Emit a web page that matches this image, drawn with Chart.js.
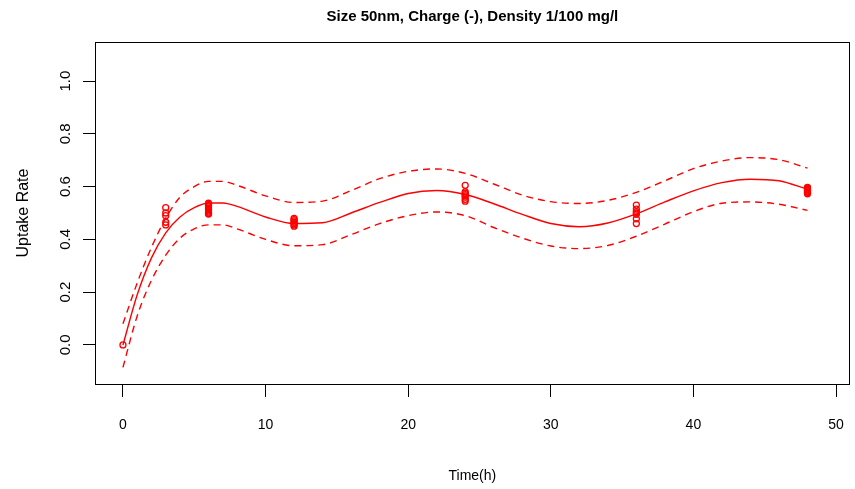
<!DOCTYPE html>
<html><head><meta charset="utf-8">
<script src="https://cdn.jsdelivr.net/npm/chart.js@4/dist/chart.umd.min.js"></script>
<style>html,body{margin:0;padding:0;background:#fff}#wrap{width:855px;height:489px;position:relative}</style>
</head><body><div id="wrap"><canvas id="c" width="855" height="489"></canvas></div>
<script>
const titleText = "Size 50nm, Charge (-), Density 1/100 mg/l";
const xTitle = "Time(h)";
const yTitle = "Uptake Rate";
const xTicks = [0, 10, 20, 30, 40, 50];
const yTicks = [0.0, 0.2, 0.4, 0.6, 0.8, 1.0];

// observed measurements
const obsTime = [0,
  3, 3, 3, 3, 3,
  6, 6, 6, 6, 6, 6, 6, 6, 6, 6,
  12, 12, 12, 12, 12, 12, 12,
  24, 24, 24, 24, 24, 24, 24, 24,
  36, 36, 36, 36, 36, 36, 36,
  48, 48, 48, 48, 48, 48, 48, 48];
const obsRate = [0.0,
  0.52, 0.50, 0.49, 0.465, 0.455,
  0.537, 0.533, 0.528, 0.523, 0.518, 0.513, 0.508, 0.503, 0.499, 0.496,
  0.48, 0.475, 0.47, 0.465, 0.46, 0.455, 0.45,
  0.605, 0.58, 0.575, 0.57, 0.565, 0.56, 0.552, 0.545,
  0.53, 0.515, 0.505, 0.50, 0.495, 0.478, 0.46,
  0.597, 0.594, 0.59, 0.587, 0.584, 0.58, 0.577, 0.573];

// fitted curve and confidence band
const fitTime  = [0, 1, 2, 3, 4, 5, 6, 7, 8, 10, 12, 14, 16, 18, 20, 22, 24, 26, 28, 30, 32, 34, 36, 38, 40, 42, 44, 46, 48];
const fitRate  = [0.0, 0.19, 0.33, 0.425, 0.485, 0.52, 0.538, 0.538, 0.525, 0.485, 0.46, 0.463, 0.50, 0.54, 0.574, 0.585, 0.57, 0.535, 0.495, 0.46, 0.448, 0.462, 0.497, 0.542, 0.584, 0.615, 0.628, 0.622, 0.59];
const upperBand = [0.08, 0.235, 0.37, 0.48, 0.56, 0.60, 0.62, 0.62, 0.605, 0.565, 0.54, 0.545, 0.585, 0.63, 0.658, 0.667, 0.65, 0.61, 0.568, 0.543, 0.536, 0.548, 0.578, 0.622, 0.668, 0.697, 0.71, 0.702, 0.67];
const lowerBand = [-0.085, 0.11, 0.245, 0.34, 0.405, 0.44, 0.455, 0.455, 0.44, 0.40, 0.376, 0.38, 0.418, 0.46, 0.49, 0.504, 0.49, 0.445, 0.405, 0.375, 0.365, 0.377, 0.412, 0.458, 0.505, 0.537, 0.542, 0.533, 0.51];

const toXY = (xs, ys) => xs.map((x, i) => ({x: x, y: ys[i]}));
const RED = '#ff0000';
const FONT = "'Liberation Sans', Arial, sans-serif";

const boxPlugin = {
  id: 'boxPlugin',
  afterDraw(chart) {
    const a = chart.chartArea, ctx = chart.ctx;
    ctx.save();
    ctx.strokeStyle = '#000';
    ctx.lineWidth = 1;
    ctx.strokeRect(Math.round(a.left) + 0.5, Math.round(a.top) + 0.5, Math.round(a.right - a.left) - 1, Math.round(a.bottom - a.top));
    ctx.restore();
  }
};

new Chart(document.getElementById('c'), {
  type: 'line',
  data: {
    datasets: [
      {type: 'line', data: toXY(fitTime, fitRate), borderColor: RED, borderWidth: 1.4, pointRadius: 0, cubicInterpolationMode: 'monotone', fill: false},
      {type: 'line', data: toXY(fitTime, upperBand), borderColor: RED, borderWidth: 1.4, borderDash: [7, 5], pointRadius: 0, cubicInterpolationMode: 'monotone', fill: false},
      {type: 'line', data: toXY(fitTime, lowerBand), borderColor: RED, borderWidth: 1.4, borderDash: [7, 5], pointRadius: 0, cubicInterpolationMode: 'monotone', fill: false},
      {type: 'scatter', data: toXY(obsTime, obsRate), showLine: false, borderColor: RED, backgroundColor: 'rgba(0,0,0,0)', pointRadius: 3, pointBorderWidth: 1.3, pointStyle: 'circle'}
    ]
  },
  options: {
    responsive: false,
    animation: false,
    devicePixelRatio: 1,
    layout: {padding: {left: 0, right: 5, top: 0, bottom: 0}},
    plugins: {
      legend: {display: false},
      tooltip: {enabled: false},
      title: {display: true, text: titleText, fullSize: false, color: '#000',
              font: {family: FONT, size: 15, weight: 'bold'}, padding: {top: 8, bottom: 16}}
    },
    scales: {
      x: {
        type: 'linear', position: 'bottom', min: -1.96, max: 50.96,
        afterBuildTicks: s => { s.ticks = xTicks.map(v => ({value: v})); },
        afterFit: s => { s.height = 105; s.paddingLeft = 0; s.paddingRight = 0; },
        ticks: {color: '#000', font: {family: FONT, size: 14}, padding: 20, autoSkip: false, maxRotation: 0, minRotation: 0, callback: v => String(v)},
        grid: {display: true, drawOnChartArea: false, drawTicks: true, tickLength: 13, color: '#000', lineWidth: 1},
        border: {display: false},
        title: {display: true, text: xTitle, color: '#000', font: {family: FONT, size: 14}, padding: {top: 0, bottom: 4}}
      },
      y: {
        type: 'linear', position: 'left', min: -0.148, max: 1.148,
        afterBuildTicks: s => { s.ticks = yTicks.map(v => ({value: v})); },
        afterFit: s => { s.width = 95; s.paddingTop = 0; s.paddingBottom = 0; },
        ticks: {color: '#000', font: {family: FONT, size: 15}, padding: 7, minRotation: 90, maxRotation: 90, crossAlign: 'center', autoSkip: false, callback: v => Number(v).toFixed(1)},
        grid: {display: true, drawOnChartArea: false, drawTicks: true, tickLength: 12, color: '#000', lineWidth: 1},
        border: {display: false},
        title: {display: true, text: yTitle, color: '#000', font: {family: FONT, size: 16}, padding: {top: 14, bottom: 0}}
      }
    }
  },
  plugins: [boxPlugin]
});
</script>
</body></html>
